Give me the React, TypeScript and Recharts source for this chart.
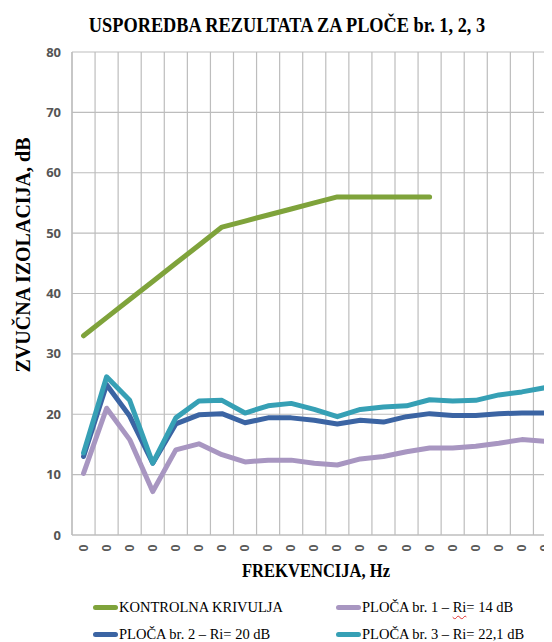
import React from 'react';
import { LineChart, Line, XAxis, YAxis, CartesianGrid, Legend } from 'recharts';

const xTickLabels = ['0', '0', '0', '0', '0', '0', '0', '0', '0', '0', '0', '0', '0', '0', '0', '0', '0', '0', '0', '0', '0'];
const yTicks = [0, 10, 20, 30, 40, 50, 60, 70, 80];
const yMinorTicks = [0, 2, 4, 6, 8, 10, 12, 14, 16, 18, 20, 22, 24, 26, 28, 30, 32, 34, 36, 38, 40, 42, 44, 46, 48, 50, 52, 54, 56, 58, 60, 62, 64, 66, 68, 70, 72, 74, 76, 78, 80];

const kontrolna = [33, 36, 39, 42, 45, 48, 51, 52, 53, 54, 55, 56, 56, 56, 56, 56, null, null, null, null, null];
const ploca1 = [10.2, 21.0, 15.8, 7.2, 14.1, 15.1, 13.3, 12.1, 12.4, 12.4, 11.9, 11.6, 12.6, 13.0, 13.8, 14.4, 14.4, 14.7, 15.2, 15.8, 15.5];
const ploca2 = [13.0, 24.9, 19.7, 11.9, 18.4, 19.9, 20.1, 18.6, 19.4, 19.4, 19.0, 18.4, 19.0, 18.7, 19.6, 20.1, 19.8, 19.8, 20.1, 20.2, 20.2];
const ploca3 = [13.6, 26.2, 22.3, 11.9, 19.4, 22.2, 22.3, 20.2, 21.4, 21.8, 20.8, 19.6, 20.8, 21.2, 21.4, 22.4, 22.2, 22.3, 23.2, 23.7, 24.4];

const seriesNames = [
  'KONTROLNA KRIVULJA',
  'PLOČA br. 1 – Ri= 14 dB',
  'PLOČA br. 2 – Ri= 20 dB',
  'PLOČA br. 3 – Ri= 22,1 dB',
];
const seriesColors = ['#7fa33b', '#a896c1', '#3b64a3', '#36a0b5'];

const data = xTickLabels.map((label, i) => ({
  idx: i,
  label,
  k: kontrolna[i],
  p1: ploca1[i],
  p2: ploca2[i],
  p3: ploca3[i],
}));

const GRID = '#bdbdbd';
const serif = '"Liberation Serif", "Times New Roman", serif';

const XTick = (props: any) => {
  const { x, y, payload } = props;
  const cy = y + 13;
  return (
    <text
      x={x}
      y={cy}
      transform={`rotate(-90, ${x}, ${cy})`}
      textAnchor="middle"
      dominantBaseline="central"
      fontSize={12.5}
      fontWeight="bold"
      fontFamily='"Liberation Sans", Arial, sans-serif'
      fill="#595959"
    >
      {xTickLabels[payload.value]}
    </text>
  );
};

const renderName = (name: string) => {
  const parts = name.split('Ri');
  if (parts.length < 2) return name;
  return (
    <>
      {parts[0]}
      <span style={{ textDecoration: 'underline wavy #e03030', textDecorationThickness: '1px', textUnderlineOffset: '3px' }}>Ri</span>
      {parts[1]}
    </>
  );
};

const LegendContent = (props: any) => {
  const payload = props.payload || [];
  const lefts = [85, 328];
  const tops = [0, 27];
  return (
    <div style={{ position: 'relative', width: 544, height: 50 }}>
      {payload.map((entry: any, i: number) => (
        <div
          key={i}
          style={{
            position: 'absolute',
            left: lefts[i % 2],
            top: tops[Math.floor(i / 2)],
            height: 18,
            display: 'flex',
            alignItems: 'center',
            whiteSpace: 'nowrap',
            fontFamily: serif,
            fontSize: 14.5,
            color: '#000',
          }}
        >
          <span
            style={{
              display: 'inline-block',
              width: 25,
              height: 5,
              borderRadius: 3,
              background: entry.color,
              marginRight: 1,
            }}
          />
          <span>{renderName(entry.value)}</span>
        </div>
      ))}
    </div>
  );
};

export default function App() {
  return (
    <div style={{ position: 'relative', width: 544, height: 634, overflow: 'hidden', background: '#fff' }}>
      <div
        style={{
          position: 'absolute',
          left: 278.5,
          top: 17,
          transform: 'translate(-50%, -50%) scaleX(0.915)',
          whiteSpace: 'nowrap',
          fontFamily: serif,
          fontWeight: 'bold',
          fontSize: 20,
          lineHeight: '20px',
          color: '#000',
        }}
      >
        USPOREDBA REZULTATA ZA PLOČE br. 1, 2, 3
      </div>
      <div
        style={{
          position: 'absolute',
          left: 15,
          top: 247,
          transform: 'translate(-50%, -50%) rotate(-90deg)',
          whiteSpace: 'nowrap',
          fontFamily: serif,
          fontWeight: 'bold',
          fontSize: 20,
          lineHeight: '20px',
          color: '#000',
        }}
      >
        ZVUČNA IZOLACIJA, dB
      </div>
      <div
        style={{
          position: 'absolute',
          left: 308,
          top: 563,
          transform: 'translate(-50%, -50%) scaleX(0.92)',
          whiteSpace: 'nowrap',
          fontFamily: serif,
          fontWeight: 'bold',
          fontSize: 18,
          lineHeight: '18px',
          color: '#000',
        }}
      >
        FREKVENCIJA, Hz
      </div>
      <LineChart
        width={560}
        height={634}
        data={data}
        margin={{ top: 44, right: 11.5, left: 0, bottom: 87 }}
        style={{ position: 'absolute', left: 0, top: 0 }}
      >
        <CartesianGrid
          stroke={GRID}
          strokeWidth={1.2}
          verticalCoordinatesGenerator={({ offset }: any) =>
            Array.from({ length: xTickLabels.length + 1 }, (_, k) => offset.left + (k * offset.width) / xTickLabels.length)
          }
        />
        <XAxis
          dataKey="idx"
          type="number"
          domain={[-0.5, xTickLabels.length - 0.5]}
          ticks={data.map((d) => d.idx)}
          interval={0}
          height={20}
          tickLine={false}
          tickSize={0}
          tickMargin={0}
          axisLine={{ stroke: GRID, strokeWidth: 1.2 }}
          tick={<XTick />}
        />
        <YAxis
          domain={[0, 80]}
          ticks={yTicks}
          interval={0}
          width={64}
          tickLine={false}
          tickSize={0}
          tickMargin={11}
          axisLine={{ stroke: GRID, strokeWidth: 1.2 }}
          tick={{ fontSize: 13, fontWeight: 'bold', fill: '#555555', fontFamily: '"Open Sans", sans-serif' }}
        />
        <YAxis
          yAxisId="minor"
          orientation="left"
          mirror
          domain={[0, 80]}
          ticks={yMinorTicks}
          interval={0}
          tick={false}
          tickSize={4}
          tickLine={{ stroke: GRID, strokeWidth: 1 }}
          axisLine={false}
          width={0}
        />
        <Line dataKey="k" name={seriesNames[0]} stroke={seriesColors[0]} strokeWidth={5} strokeLinecap="round" strokeLinejoin="round" dot={false} isAnimationActive={false} type="linear" />
        <Line dataKey="p1" name={seriesNames[1]} stroke={seriesColors[1]} strokeWidth={5} strokeLinecap="round" strokeLinejoin="round" dot={false} isAnimationActive={false} type="linear" />
        <Line dataKey="p2" name={seriesNames[2]} stroke={seriesColors[2]} strokeWidth={5} strokeLinecap="round" strokeLinejoin="round" dot={false} isAnimationActive={false} type="linear" />
        <Line dataKey="p3" name={seriesNames[3]} stroke={seriesColors[3]} strokeWidth={5} strokeLinecap="round" strokeLinejoin="round" dot={false} isAnimationActive={false} type="linear" />
        <Legend
          layout="horizontal"
          verticalAlign="middle"
          align="center"
          wrapperStyle={{ top: 590, left: 0, width: 544, height: 50 }}
          content={<LegendContent />}
        />
      </LineChart>
    </div>
  );
}
